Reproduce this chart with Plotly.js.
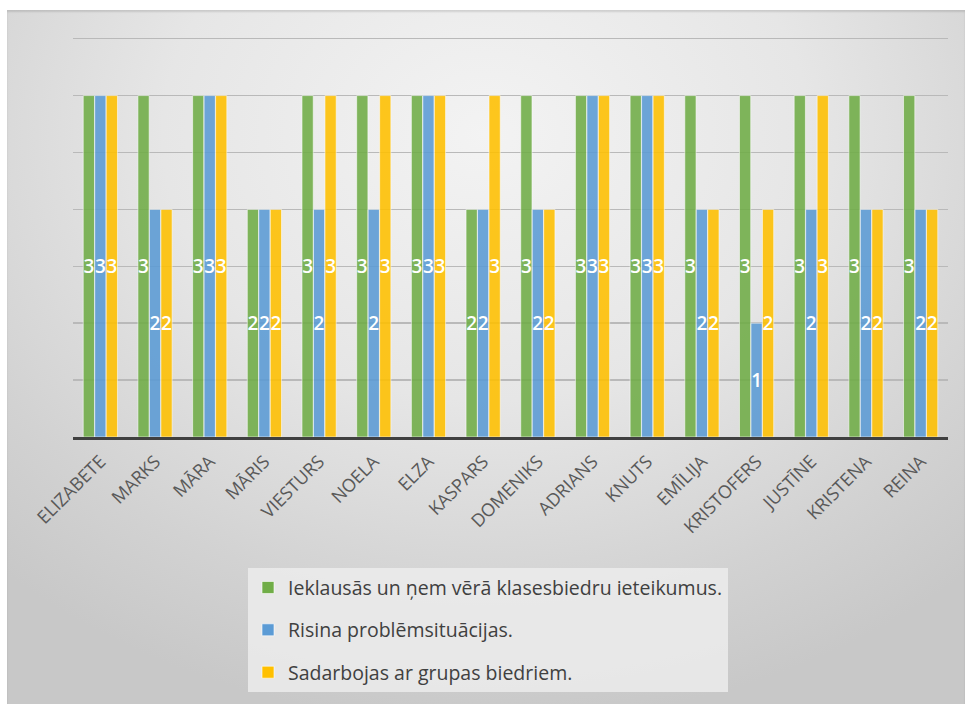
<!DOCTYPE html>
<html>
<head>
<meta charset="utf-8">
<script src="https://cdn.plot.ly/plotly-3.0.1.min.js"></script>
<style>
  html, body { margin: 0; padding: 0; background: #ffffff; }
  #wrap { position: relative; width: 965px; height: 704px; overflow: hidden; }
  #bg { position: absolute; left: 7px; top: 10px; width: 958px; height: 694px;
        background: radial-gradient(ellipse 75% 85% at 50% 18%, #f3f3f3 0%, #e6e6e6 45%, #d2d2d2 80%, #c8c8c8 100%);
        box-shadow: inset 0 2px 2px rgba(0,0,0,0.12); }
  #chart { position: absolute; left: 0; top: 0; width: 965px; height: 704px; }
</style>
</head>
<body>
<div id="wrap">
  <div id="bg"></div>
  <div id="chart"></div>
</div>
<script>
const categories = ["ELIZABETE","MARKS","MĀRA","MĀRIS","VIESTURS","NOELA","ELZA","KASPARS","DOMENIKS","ADRIANS","KNUTS","EMĪLIJA","KRISTOFERS","JUSTĪNE","KRISTENA","REINA"];
const seriesNames = ["Ieklausās un ņem vērā klasesbiedru ieteikumus.","Risina problēmsituācijas.","Sadarbojas ar grupas biedriem."];
const listens  = [3,3,3,2,3,3,3,2,3,3,3,3,3,3,3,3];
const problems = [3,2,3,2,2,2,3,2,2,3,3,2,1,2,2,2];
const cooperate= [3,2,3,2,3,3,3,3,2,3,3,2,2,3,2,2];
const colors = ["#70AD47","#5B9BD5","#FFC000"];

const values = [listens, problems, cooperate];
const traces = values.map((v, i) => ({
  type: "bar",
  name: seriesNames[i],
  x: categories,
  y: v,
  text: v.map(String),
  textposition: "inside",
  insidetextanchor: "middle",
  textangle: 0,
  constraintext: "none",
  textfont: { family: "Open Sans, sans-serif", size: 19, weight: 600, color: "#ffffff" },
  marker: { color: colors[i], opacity: 0.88, line: { color: "rgba(255,255,255,0.6)", width: 1 } },
  legendgroup: "g" + i,
  hoverinfo: "skip"
}));

const layout = {
  width: 965, height: 704,
  paper_bgcolor: "rgba(0,0,0,0)",
  plot_bgcolor: "rgba(0,0,0,0)",
  margin: { l: 73, r: 17, t: 33, b: 262 },
  barmode: "group",
  bargap: 0.37,
  bargroupgap: 0.02,
  font: { family: "Open Sans, sans-serif", color: "#595959" },
  xaxis: {
    tickangle: -45,
    tickfont: { size: 18, color: "#595959" },
    ticklabelstandoff: 4,
    showline: true, linecolor: "#404040", linewidth: 3,
    ticks: "", showgrid: false, fixedrange: true
  },
  yaxis: {
    range: [0, 3.55], tickvals: [0.5, 1, 1.5, 2, 2.5, 3, 3.5], showticklabels: false,
    showgrid: true, gridcolor: "#b9b9b9", gridwidth: 1.5,
    zeroline: false, showline: false, ticks: "", fixedrange: true
  },
  showlegend: true,
  legend: {
    x: 0.2, y: -0.325, xanchor: "left", yanchor: "top",
    orientation: "v",
    traceorder: "grouped",
    tracegroupgap: 14,
    bgcolor: "rgba(236,236,236,0.85)",
    font: { size: 19.5, color: "#404040", family: "Open Sans, sans-serif" }
  }
};

Plotly.newPlot("chart", traces, layout, { displayModeBar: false, staticPlot: true });
</script>
</body>
</html>
